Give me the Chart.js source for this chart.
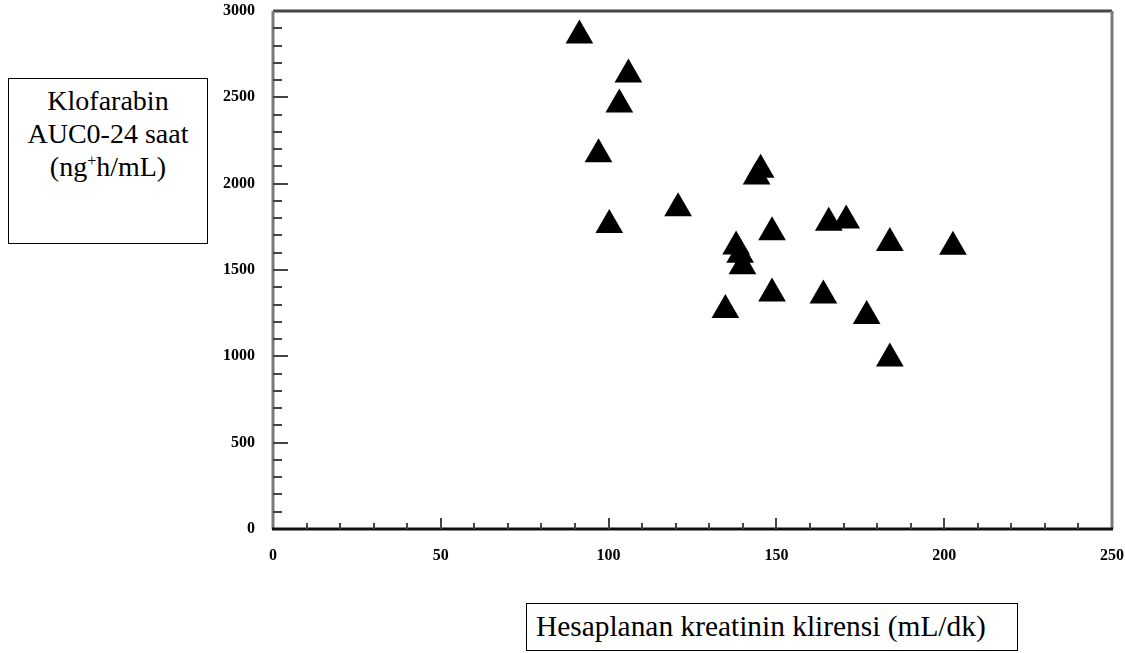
<!DOCTYPE html>
<html>
<head>
<meta charset="utf-8">
<script src="https://cdn.jsdelivr.net/npm/chart.js@4/dist/chart.umd.min.js"></script>
<style>
    body { margin: 0; background: #fff; }
    #contenedor { position: relative; width: 1125px; height: 653px; overflow: hidden; }
    #dispersion { position: absolute; left: 0; top: -5px; }
    .caja {
        position: absolute;
        box-sizing: border-box;
        border: 1.5px solid #000;
        font-family: "Liberation Serif", "Times New Roman", serif;
        font-size: 28px;
        color: #000;
        background: #fff;
    }
    #etiquetaY {
        left: 8px; top: 78px; width: 200px; height: 166px;
        text-align: center; line-height: 33px; padding-top: 5px;
    }
    #etiquetaY sup { font-size: 16px; line-height: 0; vertical-align: 10px; }
    #etiquetaX {
        left: 526px; top: 603px; width: 492px; height: 48px;
        font-size: 29.4px; line-height: 44px; padding-left: 9px; white-space: nowrap;
    }
</style>
</head>
<body>
<div id="contenedor">
    <canvas id="dispersion" width="1128" height="658"></canvas>
    <div id="etiquetaY" class="caja">Klofarabin<br>AUC0-24 saat<br>(ng<sup>+</sup>h/mL)</div>
    <div id="etiquetaX" class="caja">Hesaplanan kreatinin klirensi (mL/dk)</div>
</div>
<script>
// Datos: aclaramiento de creatinina (x) y AUC (y)
var klirens = [91.3, 105.9, 103.2, 97.0, 144.1, 145.3, 100.2, 120.7, 148.7, 165.6, 170.8,
               183.8, 202.6, 138.0, 139.2, 139.9, 148.7, 134.8, 164.0, 176.9, 183.8];
var auc = [2858, 2632, 2459, 2170, 2042, 2080, 1760, 1858, 1719, 1774, 1787,
           1656, 1634, 1636, 1588, 1521, 1364, 1269, 1352, 1233, 988];

var ticksX = [0, 50, 100, 150, 200, 250];
var ticksY = [0, 500, 1000, 1500, 2000, 2500, 3000];
var pasoMenorX = 10;
var pasoMenorY = 100;

/**
 * Plugin para dibujar el marco y las marcas hacia dentro
 */
var marcoYMarcas = {
    id: "marcoYMarcas",
    beforeDatasetsDraw: function (chart) {
        var ctx = chart.ctx;
        var area = chart.chartArea;
        var x = chart.scales.x;
        var y = chart.scales.y;
        ctx.save();

        // marco
        ctx.lineWidth = 3;
        ctx.strokeStyle = "#454545";
        ctx.beginPath(); ctx.moveTo(area.left, area.top); ctx.lineTo(area.right, area.top); ctx.stroke();
        ctx.strokeStyle = "#7a7a7a";
        ctx.beginPath(); ctx.moveTo(area.right, area.top); ctx.lineTo(area.right, area.bottom); ctx.stroke();
        ctx.beginPath(); ctx.moveTo(area.left, area.top); ctx.lineTo(area.left, area.bottom); ctx.stroke();
        ctx.strokeStyle = "#111";
        ctx.beginPath(); ctx.moveTo(area.left - 1, area.bottom); ctx.lineTo(area.right + 1, area.bottom); ctx.stroke();

        // marcas del eje x
        ctx.lineWidth = 2;
        ctx.strokeStyle = "#444";
        for (var v = 0; v <= x.max; v += pasoMenorX) {
            var px = Math.round(x.getPixelForValue(v));
            var largo = ticksX.indexOf(v) >= 0 ? 11 : 6;
            if (v === 0 || v === x.max) continue;
            ctx.beginPath(); ctx.moveTo(px, area.bottom); ctx.lineTo(px, area.bottom - largo); ctx.stroke();
        }

        // marcas del eje y
        for (var w = 0; w <= y.max; w += pasoMenorY) {
            var py = Math.round(y.getPixelForValue(w));
            var largoY = ticksY.indexOf(w) >= 0 ? 15 : 9;
            if (w === 0 || w === y.max) continue;
            ctx.beginPath(); ctx.moveTo(area.left, py); ctx.lineTo(area.left + largoY, py); ctx.stroke();
        }
        ctx.restore();
    }
};

function cargaGraficoDispersion() {
    var puntos = klirens.map(function (v, i) {
        return { x: v, y: auc[i] };
    });

    var fuenteTicks = { family: "'Liberation Serif', serif", size: 16, weight: "bold" };
    var sinComas = function (valor) { return String(valor); };

    var config = {
        type: "scatter",
        data: {
            datasets: [{
                data: puntos,
                pointStyle: "triangle",
                pointRadius: 16,
                pointHoverRadius: 16,
                backgroundColor: "#000",
                borderColor: "#000",
                borderWidth: 0,
                clip: false
            }]
        },
        options: {
            responsive: false,
            animation: false,
            layout: { padding: { top: 5, right: 11, bottom: 0, left: 0 } },
            plugins: {
                legend: { display: false },
                tooltip: { enabled: false }
            },
            scales: {
                x: {
                    type: "linear",
                    min: 0,
                    max: 250,
                    grid: { display: false, drawTicks: false },
                    border: { display: false },
                    afterBuildTicks: function (scale) {
                        scale.ticks = ticksX.map(function (v) { return { value: v }; });
                    },
                    afterFit: function (scale) {
                        scale.height = 124;
                        scale.paddingLeft = 0;
                        scale.paddingRight = 0;
                    },
                    ticks: { padding: 17, color: "#000", font: fuenteTicks, maxRotation: 0, callback: sinComas }
                },
                y: {
                    type: "linear",
                    min: 0,
                    max: 3000,
                    grid: { display: false, drawTicks: false },
                    border: { display: false },
                    afterBuildTicks: function (scale) {
                        scale.ticks = ticksY.map(function (v) { return { value: v }; });
                    },
                    afterFit: function (scale) {
                        scale.width = 273;
                        scale.paddingTop = 0;
                        scale.paddingBottom = 0;
                    },
                    ticks: { padding: 18, color: "#000", font: fuenteTicks, callback: sinComas }
                }
            }
        },
        plugins: [marcoYMarcas]
    };

    var grafico = document.getElementById("dispersion").getContext("2d");
    new Chart(grafico, config);
}

cargaGraficoDispersion();
</script>
</body>
</html>
